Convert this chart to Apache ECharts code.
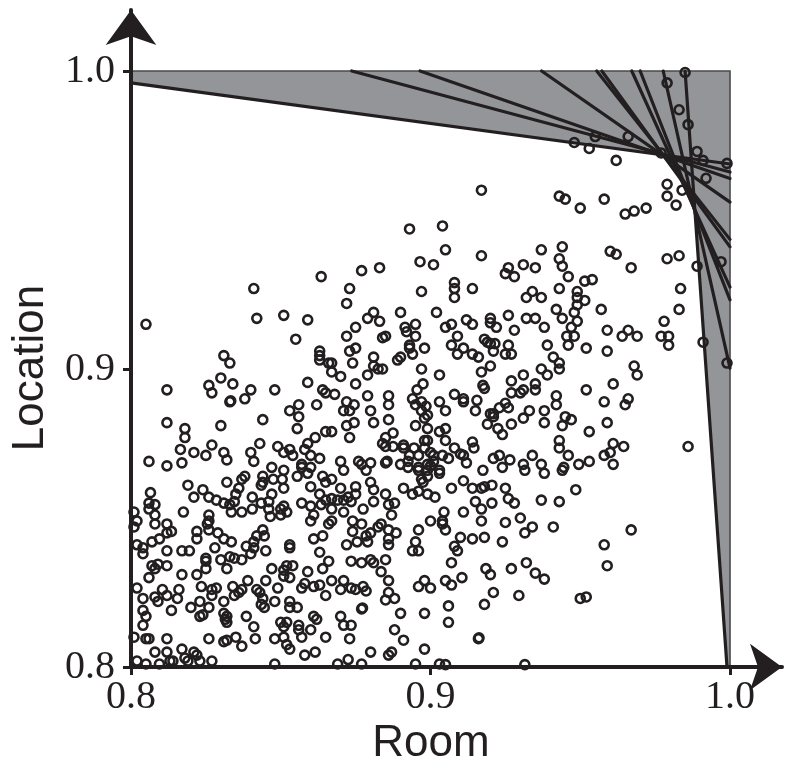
<!DOCTYPE html>
<html>
<head>
<meta charset="utf-8">
<script src="https://cdn.jsdelivr.net/npm/echarts@6/dist/echarts.min.js"></script>
<style>
  html, body { margin: 0; padding: 0; background: #ffffff; }
  #chart { width: 788px; height: 761px; }
</style>
</head>
<body>
<div id="chart"></div>
<script>
// Axis ticks and the unit box the frontier lives in
const roomTicks = [0.8, 0.9, 1.0];
const locationTicks = [0.8, 0.9, 1.0];
const roomRange = [0.8, 1.0];
const locationRange = [0.8, 1.0];

// Supporting lines of the efficiency frontier, each given by its two end points [room, location]
const frontierLines = [
  [[0.8, 0.996], [1.0, 0.9688]],
  [[0.8737, 1.0], [1.0, 0.9661]],
  [[0.8965, 1.0], [1.0, 0.9639]],
  [[0.9371, 1.0], [1.0, 0.9560]],
  [[0.9555, 1.0], [1.0, 0.9435]],
  [[0.9572, 1.0], [1.0, 0.9410]],
  [[0.9672, 1.0], [1.0, 0.9275]],
  [[0.9700, 1.0], [1.0, 0.9232]],
  [[0.9777, 1.0], [1.0, 0.9003]],
  [[0.9850, 1.0], [0.9990, 0.8]]
];

// Units: [room score, location score]
const units = [
[0.917,0.960],[0.943,0.958],[0.945,0.957],[0.950,0.954],[0.958,0.957],[0.965,0.952],[0.968,0.953],[0.972,0.954],[0.962,0.970],[0.948,0.976],[0.953,0.974],[0.955,0.978],[0.966,0.978],[0.979,0.996],[0.985,0.9995],[0.983,0.987],[0.986,0.982],[0.989,0.973],[0.991,0.970],[0.992,0.964],[0.999,0.969],[0.979,0.962],[0.979,0.958],[0.982,0.955],[0.984,0.960],[0.977,0.9725],
[0.893,0.947],[0.904,0.948],[0.905,0.940],[0.917,0.938],[0.8965,0.936],[0.901,0.935],[0.877,0.933],[0.883,0.934],[0.926,0.934],[0.931,0.935],[0.925,0.932],[0.928,0.931],[0.873,0.927],[0.872,0.922],[0.897,0.926],[0.908,0.929],[0.908,0.927],[0.908,0.924],[0.914,0.927],[0.932,0.924],
[0.881,0.919],[0.879,0.917],[0.883,0.916],[0.890,0.919],[0.902,0.919],[0.872,0.911],[0.875,0.914],[0.885,0.911],[0.884,0.9105],[0.8915,0.914],[0.895,0.915],[0.892,0.9125],[0.895,0.911],[0.905,0.914],[0.907,0.915],[0.909,0.911],[0.912,0.9165],[0.914,0.915],[0.920,0.917],[0.920,0.9155],[0.922,0.914],[0.926,0.918],[0.928,0.913],[0.932,0.917],
[0.873,0.906],[0.875,0.907],[0.893,0.908],[0.898,0.907],[0.907,0.908],[0.911,0.907],[0.918,0.910],[0.919,0.909],[0.920,0.9085],[0.9215,0.9085],[0.921,0.906],[0.926,0.908],[0.925,0.905],[0.927,0.905],[0.914,0.905],[0.916,0.904],[0.909,0.905],[0.867,0.902],[0.874,0.902],[0.881,0.904],[0.881,0.901],[0.884,0.900],[0.889,0.903],[0.890,0.904],[0.894,0.905],[0.893,0.907],[0.897,0.900],[0.920,0.901],
[0.805,0.915],[0.841,0.927],[0.842,0.917],[0.851,0.918],[0.859,0.9165],[0.8635,0.931],[0.855,0.910],[0.831,0.9045],[0.833,0.902],[0.863,0.906],[0.863,0.9045],[0.863,0.903],[0.866,0.902],
[0.937,0.940],[0.944,0.941],[0.943,0.937],[0.944,0.9345],[0.935,0.934],[0.960,0.9395],[0.962,0.9385],[0.967,0.934],[0.979,0.937],[0.983,0.938],[0.989,0.9345],[0.997,0.936],[0.946,0.931],[0.9515,0.9295],[0.954,0.930],[0.934,0.926],[0.937,0.924],[0.943,0.927],[0.949,0.926],[0.949,0.924],[0.9515,0.923],[0.949,0.9215],[0.948,0.919],[0.957,0.920],[0.942,0.920],
[0.935,0.917],[0.944,0.917],[0.949,0.916],[0.938,0.914],[0.947,0.914],[0.9455,0.911],[0.948,0.911],[0.959,0.913],[0.964,0.911],[0.966,0.913],[0.969,0.911],[0.977,0.911],[0.9795,0.911],[0.9795,0.908],[0.978,0.916],[0.9835,0.927],[0.983,0.920],[0.991,0.909],[0.999,0.902],[0.939,0.908],[0.946,0.908],[0.952,0.907],[0.959,0.906],[0.941,0.904],[0.943,0.902],[0.943,0.900],[0.937,0.900],[0.968,0.901],
[0.939,0.898],[0.935,0.895],[0.935,0.893],[0.952,0.893],[0.961,0.895],[0.969,0.898],[0.958,0.889],[0.965,0.888],[0.966,0.890],[0.942,0.891],[0.942,0.888],[0.938,0.886],[0.938,0.882],[0.933,0.886],[0.945,0.884],[0.947,0.883],[0.944,0.881],[0.953,0.879],[0.959,0.882],[0.943,0.876],[0.943,0.8735],[0.934,0.871],[0.946,0.871],[0.961,0.875],[0.9645,0.874],[0.958,0.871],[0.960,0.872],[0.961,0.868],[0.953,0.869],[0.9495,0.868],[0.937,0.868],[0.938,0.865],[0.944,0.866],[0.9445,0.867],[0.986,0.874],[0.9485,0.8595],[0.937,0.856],[0.943,0.8555],[0.934,0.847],[0.941,0.847],[0.967,0.846],[0.958,0.841],[0.959,0.834],[0.935,0.8315],[0.938,0.8295],[0.950,0.823],[0.952,0.8235],
[0.870,0.8975],[0.867,0.899],[0.875,0.895],[0.879,0.898],[0.8825,0.900],[0.8975,0.895],[0.903,0.898],[0.917,0.899],[0.9175,0.8945],[0.918,0.8935],[0.927,0.896],[0.931,0.898],[0.931,0.893],[0.930,0.892],[0.927,0.892],[0.868,0.8915],[0.879,0.891],[0.886,0.891],[0.886,0.888],[0.8955,0.893],[0.894,0.890],[0.895,0.888],[0.897,0.889],[0.8985,0.8875],[0.897,0.886],[0.899,0.8845],[0.898,0.8835],[0.903,0.889],[0.905,0.886],[0.908,0.8915],[0.911,0.890],[0.911,0.889],[0.9155,0.8895],[0.915,0.886],[0.923,0.887],[0.926,0.887],[0.925,0.8885],[0.920,0.885],[0.921,0.884],[0.921,0.885],[0.931,0.8835],[0.872,0.889],[0.873,0.886],[0.871,0.886],[0.8745,0.888],[0.880,0.886],[0.886,0.883],
[0.867,0.879],[0.872,0.881],[0.873,0.877],[0.8745,0.882],[0.881,0.882],[0.895,0.881],[0.899,0.880],[0.903,0.879],[0.905,0.880],[0.919,0.8815],[0.9225,0.880],[0.924,0.878],[0.927,0.8815],[0.885,0.877],[0.884,0.875],[0.885,0.874],[0.8875,0.8785],[0.8875,0.874],[0.891,0.8745],[0.891,0.8735],[0.8945,0.8735],[0.898,0.876],[0.899,0.876],[0.898,0.8735],[0.905,0.876],[0.908,0.8735],[0.914,0.8755],[0.9145,0.8735],[0.910,0.8715],[0.911,0.871],[0.893,0.871],[0.896,0.871],[0.900,0.872],[0.901,0.871],[0.901,0.869],[0.904,0.871],[0.906,0.870],[0.8855,0.869],[0.885,0.8685],[0.890,0.868],[0.8925,0.869],[0.8925,0.867],[0.896,0.867],[0.899,0.868],[0.899,0.866],[0.900,0.8675],[0.903,0.866],[0.903,0.865],[0.912,0.8685],[0.921,0.870],[0.923,0.871],[0.9265,0.8695],[0.924,0.867],[0.931,0.868],[0.9315,0.866],[0.870,0.869],[0.871,0.866],[0.876,0.869],[0.877,0.868],[0.880,0.8685],[0.8785,0.866],[0.880,0.862],[0.867,0.863],
[0.9175,0.866],[0.897,0.863],[0.899,0.864],[0.8975,0.862],[0.896,0.866],[0.896,0.859],[0.891,0.860],[0.894,0.858],[0.899,0.858],[0.9015,0.857],[0.907,0.860],[0.911,0.8625],[0.914,0.860],[0.917,0.860],[0.918,0.8605],[0.9205,0.861],[0.925,0.860],[0.870,0.860],[0.875,0.8605],[0.875,0.858],[0.881,0.8595],[0.885,0.858],[0.881,0.8555],[0.886,0.8545],[0.888,0.855],[0.887,0.851],[0.867,0.8565],[0.869,0.856],[0.871,0.856],[0.8735,0.8555],[0.8725,0.857],[0.871,0.852],[0.867,0.853],[0.8775,0.853],[0.915,0.8555],[0.917,0.853],[0.9205,0.855],[0.926,0.8565],[0.928,0.855],[0.911,0.852],[0.9045,0.852],[0.900,0.849],[0.904,0.849],[0.904,0.848],[0.905,0.846],[0.917,0.849],[0.925,0.8485],[0.930,0.850],[0.867,0.849],[0.866,0.848],[0.874,0.849],[0.877,0.848],[0.874,0.8455],[0.8835,0.848],[0.8825,0.847],[0.880,0.845],[0.8785,0.844],[0.879,0.842],[0.8755,0.842],[0.872,0.841],[0.886,0.846],[0.886,0.843],[0.886,0.841],[0.8885,0.845],
[0.866,0.8355],[0.896,0.846],[0.895,0.842],[0.894,0.839],[0.896,0.839],[0.910,0.8435],[0.914,0.843],[0.918,0.8435],[0.924,0.842],[0.9315,0.845],[0.908,0.8405],[0.909,0.839],[0.907,0.835],[0.8735,0.8355],[0.877,0.835],[0.880,0.836],[0.881,0.835],[0.885,0.836],[0.8835,0.832],[0.886,0.829],[0.9185,0.833],[0.920,0.831],[0.927,0.833],[0.932,0.835],[0.867,0.829],[0.871,0.829],[0.870,0.826],[0.8735,0.8265],[0.875,0.826],[0.8775,0.827],[0.8785,0.8255],[0.886,0.825],[0.888,0.823],[0.885,0.8225],[0.896,0.827],[0.898,0.829],[0.900,0.8265],[0.905,0.829],[0.907,0.8275],[0.9105,0.830],[0.921,0.825],[0.918,0.821],[0.9295,0.824],[0.877,0.8195],[0.8773,0.8198],[0.890,0.818],[0.898,0.818],[0.906,0.8205],[0.906,0.815],[0.870,0.817],[0.871,0.814],[0.8735,0.814],[0.888,0.8125],[0.891,0.809],[0.873,0.8095],[0.880,0.805],[0.886,0.804],[0.887,0.805],[0.898,0.806],[0.916,0.8095],[0.9162,0.8098],[0.8725,0.8025],[0.869,0.801],[0.877,0.801],[0.895,0.801],[0.903,0.801],[0.905,0.8008],[0.9315,0.8008],
[0.812,0.893],[0.826,0.8945],[0.827,0.892],[0.830,0.897],[0.834,0.895],[0.833,0.889],[0.8333,0.8893],[0.838,0.890],[0.840,0.893],[0.848,0.893],[0.859,0.8955],[0.864,0.893],[0.865,0.892],[0.862,0.888],[0.853,0.886],[0.856,0.888],[0.856,0.884],
[0.812,0.882],[0.818,0.880],[0.818,0.877],[0.830,0.881],[0.844,0.883],[0.8555,0.880],[0.865,0.879],[0.8615,0.877],[0.843,0.875],[0.827,0.8745],[0.8165,0.873],[0.821,0.872],[0.825,0.871],[0.831,0.872],[0.832,0.8695],[0.840,0.872],[0.841,0.869],[0.849,0.874],[0.851,0.872],[0.853,0.873],[0.854,0.871],[0.859,0.875],[0.858,0.873],[0.860,0.871],[0.863,0.870],[0.806,0.869],[0.812,0.8675],[0.817,0.8685],[0.857,0.868],[0.857,0.867],[0.860,0.867],[0.847,0.867],[0.851,0.866],[0.844,0.864],[0.8475,0.863],[0.838,0.864],[0.837,0.863],[0.832,0.862],[0.819,0.861],[0.824,0.8595],[0.8065,0.8585],[0.8435,0.861],[0.844,0.862],[0.8505,0.863],[0.851,0.860],[0.8555,0.864],[0.859,0.865],[0.864,0.864],[0.865,0.862],[0.860,0.8605],[0.836,0.860],[0.835,0.858],[0.8405,0.857],[0.847,0.858],[0.821,0.857],[0.826,0.857],[0.8285,0.856],[0.831,0.855],[0.833,0.8545],[0.8345,0.8555],[0.8335,0.852],[0.8405,0.853],[0.837,0.852],[0.8435,0.855],[0.846,0.8555],[0.846,0.853],[0.850,0.853],[0.851,0.854],[0.852,0.852],[0.850,0.851],[0.857,0.855],[0.860,0.854],[0.861,0.851],[0.860,0.849],[0.863,0.858],[0.865,0.856],[0.8635,0.8545],[0.806,0.855],[0.808,0.8545],[0.806,0.853],[0.808,0.851],[0.801,0.852],[0.802,0.849],[0.801,0.847],[0.808,0.848],[0.8175,0.852],[0.826,0.851],[0.826,0.849],[0.8255,0.848],[0.8465,0.8505],
[0.812,0.848],[0.812,0.845],[0.8135,0.8455],[0.8095,0.843],[0.807,0.842],[0.802,0.841],[0.804,0.840],[0.804,0.838],[0.822,0.8455],[0.822,0.843],[0.826,0.846],[0.829,0.845],[0.831,0.843],[0.8335,0.842],[0.828,0.840],[0.8385,0.8405],[0.841,0.840],[0.841,0.842],[0.842,0.844],[0.844,0.846],[0.8445,0.844],[0.840,0.838],[0.845,0.839],[0.853,0.841],[0.853,0.840],[0.861,0.843],[0.864,0.844],[0.812,0.839],[0.817,0.839],[0.8195,0.839],[0.825,0.8365],[0.825,0.8355],[0.830,0.836],[0.833,0.837],[0.8345,0.8365],[0.837,0.836],[0.807,0.834],[0.808,0.833],[0.809,0.8345],[0.812,0.834],[0.817,0.831],[0.822,0.831],[0.825,0.833],[0.832,0.833],[0.847,0.833],[0.851,0.8325],[0.852,0.834],[0.854,0.834],[0.851,0.8305],[0.853,0.830],[0.859,0.832],[0.863,0.8385],[0.864,0.833],
[0.806,0.830],[0.802,0.8265],[0.804,0.823],[0.8105,0.826],[0.812,0.824],[0.809,0.822],[0.808,0.8235],[0.816,0.826],[0.8155,0.823],[0.8235,0.827],[0.827,0.826],[0.8285,0.8265],[0.827,0.824],[0.831,0.822],[0.834,0.827],[0.837,0.826],[0.8345,0.824],[0.836,0.825],[0.839,0.829],[0.842,0.826],[0.843,0.825],[0.844,0.823],[0.8435,0.821],[0.8445,0.820],[0.845,0.829],[0.849,0.8265],[0.857,0.8265],[0.858,0.828],[0.861,0.827],[0.863,0.8275],[0.8555,0.820],[0.865,0.824],[0.853,0.822],[0.853,0.820],[0.848,0.822],[0.820,0.820],[0.823,0.822],[0.8135,0.819],[0.804,0.819],[0.805,0.817],[0.823,0.817],[0.824,0.8175],[0.826,0.820],[0.831,0.818],[0.832,0.815],[0.8315,0.816],[0.832,0.817],[0.8385,0.817],[0.841,0.8135],[0.850,0.815],[0.852,0.815],[0.851,0.8135],[0.856,0.814],[0.856,0.8125],[0.860,0.8125],[0.861,0.817],[0.862,0.816],
[0.804,0.814],[0.801,0.810],[0.805,0.8095],[0.806,0.8095],[0.812,0.8095],[0.826,0.8095],[0.831,0.8085],[0.832,0.809],[0.835,0.810],[0.837,0.807],[0.8415,0.8095],[0.848,0.8095],[0.851,0.810],[0.852,0.8075],[0.853,0.806],[0.857,0.810],[0.865,0.810],[0.808,0.805],[0.812,0.805],[0.813,0.802],[0.802,0.802],[0.805,0.801],[0.8095,0.801],[0.817,0.806],[0.818,0.803],[0.819,0.802],[0.821,0.805],[0.822,0.804],[0.823,0.802],[0.827,0.802],[0.858,0.804],[0.8615,0.805],[0.848,0.801],[0.814,0.802]
];

const INK = '#231f20';
const SHADE = '#939598';

// Axes run a little past 1.0 so the arrowheads sit beyond the box
const ROOM_AXIS_MAX = 1.01736;
const LOCATION_AXIS_MAX = 1.02047;

// Region that every supporting line leaves on the origin side (clip the box by each half-plane)
function clipToSide(poly, a, b, ref) {
  const side = p => (b[0] - a[0]) * (p[1] - a[1]) - (b[1] - a[1]) * (p[0] - a[0]);
  const s0 = side(ref) >= 0 ? 1 : -1;
  const out = [];
  for (let i = 0; i < poly.length; i++) {
    const p = poly[i], q = poly[(i + 1) % poly.length];
    const sp = side(p) * s0, sq = side(q) * s0;
    if (sp >= 0) out.push(p);
    if ((sp >= 0) !== (sq >= 0)) {
      const t = sp / (sp - sq);
      out.push([p[0] + t * (q[0] - p[0]), p[1] + t * (q[1] - p[1])]);
    }
  }
  return out;
}

const boxCorners = [
  [roomRange[0], locationRange[0]], [roomRange[1], locationRange[0]],
  [roomRange[1], locationRange[1]], [roomRange[0], locationRange[1]]
];
let dominated = boxCorners.slice();
frontierLines.forEach(l => { dominated = clipToSide(dominated, l[0], l[1], boxCorners[0]); });

const chart = echarts.init(document.getElementById('chart'), null, { renderer: 'canvas' });

chart.setOption({
  animation: false,
  backgroundColor: '#ffffff',
  grid: { left: 131, right: 6, top: 10, bottom: 94, containLabel: false, outerBoundsMode: 'none' },
  xAxis: {
    type: 'value',
    z: 10,
    min: roomRange[0],
    max: ROOM_AXIS_MAX,
    name: 'Room',
    nameLocation: 'middle',
    nameGap: 52,
    nameTextStyle: { fontFamily: 'Liberation Sans', fontSize: 44, color: INK, padding: [0, 51, 0, 0] },
    splitLine: { show: false },
    axisLine: {
      onZero: false,
      lineStyle: { color: INK, width: 4 },
      symbol: ['none', 'arrow'],
      symbolSize: [35, 32]
    },
    axisTick: { show: true, customValues: roomTicks, length: 8, lineStyle: { color: INK, width: 3 } },
    axisLabel: {
      customValues: roomTicks,
      formatter: v => v.toFixed(1),
      fontFamily: 'Liberation Serif', fontSize: 40, color: INK, margin: 10
    }
  },
  yAxis: {
    type: 'value',
    z: 10,
    min: locationRange[0],
    max: LOCATION_AXIS_MAX,
    name: 'Location',
    nameLocation: 'middle',
    nameGap: 78,
    nameTextStyle: { fontFamily: 'Liberation Sans', fontSize: 44, color: INK, padding: [0, 59, 0, 0] },
    splitLine: { show: false },
    axisLine: {
      onZero: false,
      lineStyle: { color: INK, width: 4 },
      symbol: ['none', 'arrow'],
      symbolSize: [38, 35]
    },
    axisTick: { show: true, customValues: locationTicks, length: 8, lineStyle: { color: INK, width: 3 } },
    axisLabel: {
      customValues: locationTicks,
      formatter: v => v.toFixed(1),
      fontFamily: 'Liberation Serif', fontSize: 40, color: INK, margin: 16
    }
  },
  series: [
    {
      type: 'custom',
      coordinateSystem: 'cartesian2d',
      data: [[roomRange[0], locationRange[0]]],
      silent: true,
      z: 1,
      renderItem: function (params, api) {
        const c = p => api.coord(p);
        const children = [];
        children.push({ type: 'polygon', shape: { points: boxCorners.map(c) }, style: { fill: SHADE } });
        children.push({ type: 'polygon', shape: { points: dominated.map(c) }, style: { fill: '#ffffff' } });
        // box edges at Room = 1 and Location = 1
        const tl = c(boxCorners[3]), tr = c(boxCorners[2]), br = c(boxCorners[1]);
        children.push({ type: 'polyline', shape: { points: [tl, tr, br] }, style: { stroke: '#4a4a4c', lineWidth: 1.6, fill: null } });
        frontierLines.forEach(l => {
          const a = c(l[0]), b = c(l[1]);
          children.push({
            type: 'line',
            shape: { x1: a[0], y1: a[1], x2: b[0], y2: b[1] },
            style: { stroke: INK, lineWidth: 3.2, lineCap: 'round' }
          });
        });
        return { type: 'group', children: children };
      }
    },
    {
      type: 'scatter',
      data: units,
      z: 3,
      symbol: 'circle',
      symbolSize: 9,
      itemStyle: { color: 'rgba(0,0,0,0)', borderColor: INK, borderWidth: 2.6, opacity: 1 },
      emphasis: { disabled: true }
    }
  ]
});
</script>
</body>
</html>
